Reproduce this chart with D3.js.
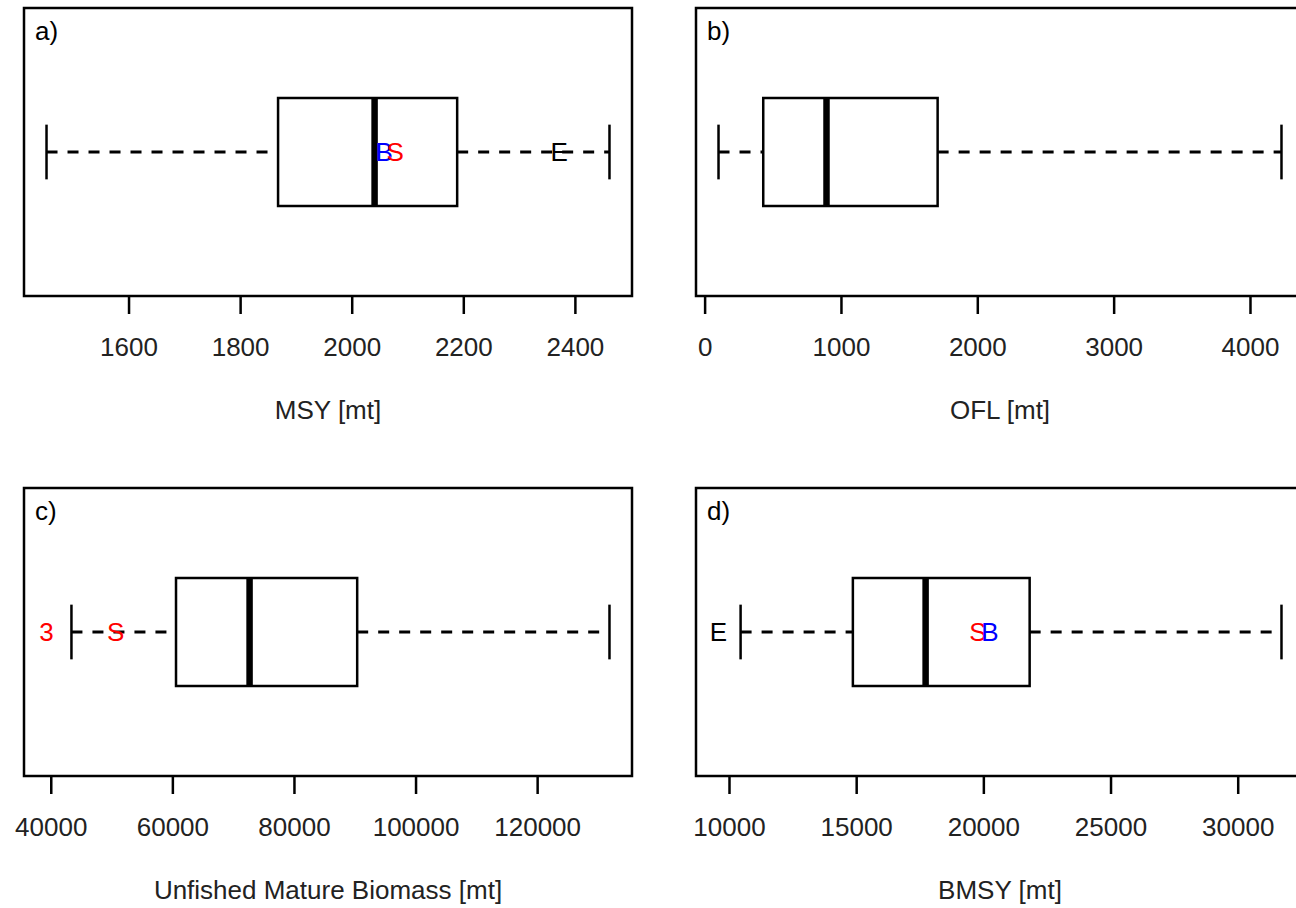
<!DOCTYPE html>
<html>
<head>
<meta charset="utf-8">
<script src="https://cdn.jsdelivr.net/npm/d3@7"></script>
<style>
  body { margin: 0; background: #fff; }
  svg { display: block; }
</style>
</head>
<body>
<script>
// box statistics, one entry per panel (a, b, c, d)
var panelTags = ["a)", "b)", "c)", "d)"];
var axisTitles = ["MSY [mt]", "OFL [mt]", "Unfished Mature Biomass [mt]", "BMSY [mt]"];
var lowWhisker = [1453, 102, 43400, 10456];
var q1 = [1868, 430, 60600, 14870];
var median = [2041, 894, 72700, 17730];
var q3 = [2189, 1709, 90400, 21820];
var highWhisker = [2462, 4231, 131900, 31721];

var tickValues = [
  [1600, 1800, 2000, 2200, 2400],
  [0, 1000, 2000, 3000, 4000],
  [40000, 60000, 80000, 100000, 120000],
  [10000, 15000, 20000, 25000, 30000]
];

// letter markers drawn on top of each box
var markerLabels = [["B", "S", "E"], [], ["3", "S"], ["E", "S", "B"]];
var markerValues = [[2058, 2078, 2372], [], [39300, 50660], [9588, 19790, 20262]];
var markerColors = [["#0000ff", "#ff0000", "#000000"], [], ["#ff0000", "#ff0000"], ["#000000", "#ff0000", "#0000ff"]];

var width = 1296, height = 908;
var frames = [
  {x0: 24, x1: 632, y0: 8, y1: 296},
  {x0: 696, x1: 1304, y0: 8, y1: 296},
  {x0: 24, x1: 632, y0: 488, y1: 776},
  {x0: 696, x1: 1304, y0: 488, y1: 776}
];

var svg = d3.select("body").append("svg")
    .attr("width", width)
    .attr("height", height)
    .attr("font-family", "'Liberation Sans', Arial, Helvetica, sans-serif")
    .attr("font-size", 26);

frames.forEach(function(f, i) {
  var lo = d3.min([lowWhisker[i]].concat(markerValues[i]));
  var hi = d3.max([highWhisker[i]].concat(markerValues[i]));
  var pad = (hi - lo) * 0.04;

  var x = d3.scaleLinear().domain([lo - pad, hi + pad]).range([f.x0, f.x1]);
  var y = d3.scaleLinear().domain([0.5, 1.5]).range([f.y1, f.y0]);

  var g = svg.append("g");
  var mid = y(1);

  // whiskers (dashed)
  g.append("line")
      .attr("x1", x(lowWhisker[i])).attr("x2", x(q1[i]))
      .attr("y1", mid).attr("y2", mid)
      .attr("stroke", "#000").attr("stroke-width", 3)
      .attr("stroke-dasharray", "11,10");
  g.append("line")
      .attr("x1", x(q3[i])).attr("x2", x(highWhisker[i]))
      .attr("y1", mid).attr("y2", mid)
      .attr("stroke", "#000").attr("stroke-width", 3)
      .attr("stroke-dasharray", "11,10");

  // whisker caps
  [lowWhisker[i], highWhisker[i]].forEach(function(v) {
    g.append("line")
        .attr("x1", x(v)).attr("x2", x(v))
        .attr("y1", y(1.095)).attr("y2", y(0.905))
        .attr("stroke", "#000").attr("stroke-width", 2.5);
  });

  // box
  g.append("rect")
      .attr("x", x(q1[i]))
      .attr("y", y(1.1875))
      .attr("width", x(q3[i]) - x(q1[i]))
      .attr("height", y(0.8125) - y(1.1875))
      .attr("fill", "#fff")
      .attr("stroke", "#000").attr("stroke-width", 2.5);

  // median
  g.append("line")
      .attr("x1", x(median[i])).attr("x2", x(median[i]))
      .attr("y1", y(1.1875)).attr("y2", y(0.8125))
      .attr("stroke", "#000").attr("stroke-width", 6.5);

  // letter markers
  g.selectAll("text.marker")
    .data(markerLabels[i].map(function(l, j) { return {label: l, value: markerValues[i][j], color: markerColors[i][j]}; }))
    .join("text")
      .attr("class", "marker")
      .attr("x", d => x(d.value))
      .attr("y", mid)
      .attr("dy", "0.35em")
      .attr("text-anchor", "middle")
      .attr("fill", d => d.color)
      .text(d => d.label);

  // frame
  g.append("rect")
      .attr("x", f.x0).attr("y", f.y0)
      .attr("width", f.x1 - f.x0).attr("height", f.y1 - f.y0)
      .attr("fill", "none")
      .attr("stroke", "#000").attr("stroke-width", 2.5);

  // panel tag
  g.append("text")
      .attr("x", f.x0 + 11)
      .attr("y", f.y0 + 32)
      .text(panelTags[i]);

  // axis
  var ax = g.append("g")
      .attr("transform", `translate(0,${f.y1})`)
      .call(d3.axisBottom(x).tickValues(tickValues[i]).tickFormat(d3.format("d")).tickSize(18).tickSizeOuter(0));
  ax.select(".domain").remove();
  ax.selectAll(".tick line").attr("stroke", "#000").attr("stroke-width", 2.5);
  ax.selectAll(".tick text")
      .attr("y", 51)
      .attr("dy", "0.35em")
      .attr("fill", "#222")
      .attr("font-size", 26)
      .attr("font-family", "'Liberation Sans', Arial, Helvetica, sans-serif");

  // axis title
  g.append("text")
      .attr("x", (f.x0 + f.x1) / 2)
      .attr("y", f.y1 + 114)
      .attr("dy", "0.35em")
      .attr("text-anchor", "middle")
      .attr("fill", "#222")
      .text(axisTitles[i]);
});
</script>
</body>
</html>
